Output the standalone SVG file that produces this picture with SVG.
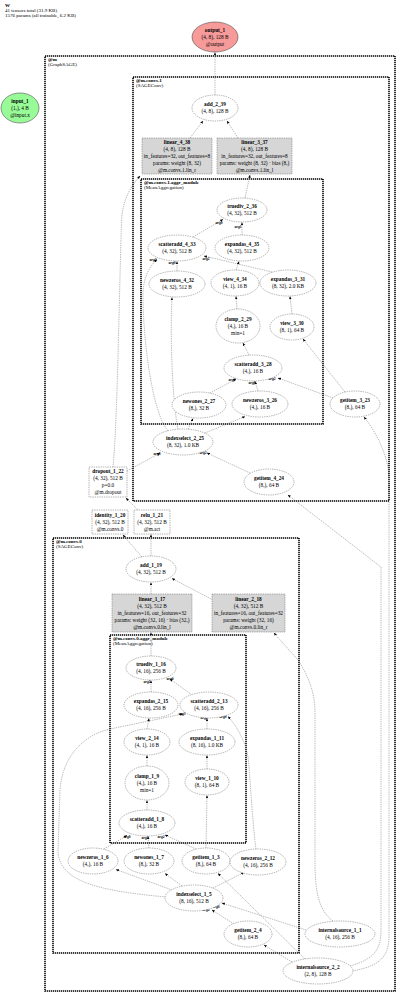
<svg xmlns="http://www.w3.org/2000/svg" width="400" height="996" viewBox="0 0 400 996">
<style>
text{font-family:"Liberation Serif","Times New Roman",serif;font-size:5.3px;fill:#000}
.m{text-anchor:middle}
.b{font-weight:bold}
.h{font-size:5px}
.n{fill:#fff;stroke:#666;stroke-width:0.5;stroke-dasharray:1.4,0.9}
.g{fill:#d6d6d6;stroke:#666;stroke-width:0.5;stroke-dasharray:1.4,0.9}
.c{fill:none;stroke:#000;stroke-width:1.6;stroke-dasharray:1.3,0.7}
.e path{fill:none;stroke:#666;stroke-width:0.45;stroke-dasharray:1.4,0.9;marker-end:url(#a)}
.l{font-size:3.6px;font-weight:bold;text-anchor:middle}
</style>
<defs>
<marker id="a" viewBox="0 0 10 10" refX="9" refY="5" markerWidth="3.2" markerHeight="3.2" orient="auto" markerUnits="userSpaceOnUse">
<path d="M0,1 L10,5 L0,9 z" fill="#000"/>
</marker>
</defs>
<rect width="400" height="996" fill="#fff"/>
<g id="header">
<text x="5" y="6.5" class="b h">W</text>
<text x="5" y="11.7" class="h">41 tensors total (31.9 KB)</text>
<text x="5" y="16.7" class="h">1576 params (all trainable, 6.2 KB)</text>
</g>
<g id="clusters">
<rect class="c" x="45" y="56" width="350" height="935"/>
<text x="48" y="61" class="b h">@m</text>
<text x="48" y="66" class="h">(GraphSAGE)</text>
<rect class="c" x="133" y="77" width="256" height="424"/>
<text x="136" y="82" class="b h">@m.convs.1</text>
<text x="136" y="87" class="h">(SAGEConv)</text>
<rect class="c" x="141" y="179" width="182" height="245"/>
<text x="144" y="184" class="b h">@m.convs.1.aggr_module</text>
<text x="144" y="189" class="h">(MeanAggregation)</text>
<rect class="c" x="53" y="538" width="246" height="415"/>
<text x="56" y="543" class="b h">@m.convs.0</text>
<text x="56" y="548" class="h">(SAGEConv)</text>
<rect class="c" x="110" y="635" width="136" height="208"/>
<text x="113" y="640" class="b h">@m.convs.0.aggr_module</text>
<text x="113" y="645" class="h">(MeanAggregation)</text>
</g>
<g id="edges" class="e">
<path d="M215,95 L215,52.5"/>
<path d="M190,138 L203,121"/>
<path d="M238,138 L227,121"/>
<path d="M245,198 L250,175"/>
<path d="M193,237 L223,219.5"/>
<path d="M242,235 L242,222.5"/>
<path d="M177,271 L177,261.5"/>
<path d="M272,272 L204,256"/>
<path d="M168,431 C152,412 143,340 143,295 C143,277 150,266 157,259.5"/>
<path d="M236,270 L239,261.5"/>
<path d="M237,309 L236,296.5"/>
<path d="M292,314 L290,296.5"/>
<path d="M249,355 L243,343"/>
<path d="M345,392 L303,339"/>
<path d="M333,398 L278,378"/>
<path d="M210,393 L236,379"/>
<path d="M258,391 L255,381.5"/>
<path d="M188,429 L193,418.5"/>
<path d="M205,433 L245,416.5"/>
<path d="M178,429 C172,400 170,330 172,297.5"/>
<path d="M250,473 L207,453"/>
<path d="M127,471 L160,453"/>
<path d="M113,467 C118,420 120,240 122,215 C124,198 131,186 140,176"/>
<path d="M350,966 C374,959 381,950 381,930 L381,567 L288,495"/>
<path d="M352,971 C381,966 389,956 389,935 L389,480 C389,456 376,432 364,417"/>
<path d="M333,921 C319,911 315,892 315,862 L315,712 C315,690 306,672 298,660 L274,633"/>
<path d="M306,930 L222,903"/>
<path d="M234,924 L212,910"/>
<path d="M292,962 L264,945"/>
<path d="M305,959 L218,873.5"/>
<path d="M172,890 L116,869.5"/>
<path d="M182,886 L165,873.5"/>
<path d="M213,888 L244,872.5"/>
<path d="M166,897 C100,891 60,882 58,852 L60,790 C62,760 80,736 110,729 L183,714"/>
<path d="M256,849 C252,820 250,772 248,757 C245,740 236,725 228,716.5"/>
<path d="M207,729 L207,718.5"/>
<path d="M207,769 L207,755.5"/>
<path d="M206,848 L207,795.5"/>
<path d="M192,695 L170,679"/>
<path d="M151,692 L151,680.5"/>
<path d="M147,729 L149,718.5"/>
<path d="M147,766 L147,755.5"/>
<path d="M147,810 L147,800.5"/>
<path d="M104,849 L127,835.5"/>
<path d="M149,848 L148,836.5"/>
<path d="M196,849 L165,835"/>
<path d="M151,656 L151,632.5"/>
<path d="M151,594 L151,582.5"/>
<path d="M213,600 L172,578.5"/>
<path d="M151,556 L151,534.5"/>
<path d="M142,557 L123,535"/>
<path d="M138,510 L126,498"/>
</g>
<g id="edge-labels">
<text x="219" y="224" class="l">arg0</text>
<text x="238" y="227.5" class="l">arg1</text>
<text x="172" y="264" class="l">arg0</text>
<text x="206" y="260" class="l">arg2</text>
<text x="153" y="261" class="l">arg3</text>
<text x="272" y="380" class="l">arg2</text>
<text x="232" y="381" class="l">arg3</text>
<text x="252" y="383.5" class="l">arg0</text>
<text x="203" y="454" class="l">arg2</text>
<text x="157" y="455" class="l">arg0</text>
<text x="170" y="680" class="l">arg0</text>
<text x="147" y="683" class="l">arg1</text>
<text x="182" y="715" class="l">arg3</text>
<text x="204" y="719" class="l">arg2</text>
<text x="223" y="718" class="l">arg0</text>
<text x="127" y="838" class="l">arg0</text>
<text x="145" y="839" class="l">arg3</text>
<text x="161" y="838" class="l">arg2</text>
<text x="206" y="911" class="l">arg2</text>
<text x="216" y="908" class="l">arg0</text>
</g>
<g id="output_1"><ellipse cx="215" cy="37" rx="23" ry="15" fill="#f79a9a" stroke="#333" stroke-width="0.5"/>
<text x="215" y="32.2" class="m b">output_1</text><text x="215" y="39" class="m">(4, 8), 128 B</text><text x="215" y="45.8" class="m">@output</text></g>
<g id="input_1"><ellipse cx="20" cy="108" rx="19" ry="15" fill="#98fb98" stroke="#333" stroke-width="0.5"/>
<text x="20" y="103.2" class="m b">input_1</text><text x="20" y="110" class="m">(1,), 4 B</text><text x="20" y="116.8" class="m">@input.x</text></g>
<g id="add_2_39"><ellipse class="n" cx="215" cy="108" rx="23" ry="13"/>
<text x="215" y="106.2" class="m b">add_2_39</text><text x="215" y="113.4" class="m">(4, 8), 128 B</text></g>
<g id="linear_4_38"><rect class="g" x="142" y="138" width="70" height="36"/>
<text x="177" y="144" class="m b">linear_4_38</text><text x="177" y="151" class="m">(4, 8), 128 B</text><text x="177" y="157.8" class="m">in_features=32, out_features=8</text><text x="177" y="164.8" class="m">params: weight (8, 32)</text><text x="177" y="171.6" class="m">@m.convs.1.lin_r</text></g>
<g id="linear_3_37"><rect class="g" x="217" y="138" width="75" height="36"/>
<text x="254.5" y="144" class="m b">linear_3_37</text><text x="254.5" y="151" class="m">(4, 8), 128 B</text><text x="254.5" y="157.8" class="m">in_features=32, out_features=8</text><text x="254.5" y="164.8" class="m">params: weight (8, 32) · bias (8,)</text><text x="254.5" y="171.6" class="m">@m.convs.1.lin_l</text></g>
<g id="truediv_2_36"><ellipse class="n" cx="242" cy="210" rx="25" ry="12"/>
<text x="242" y="208.2" class="m b">truediv_2_36</text><text x="242" y="215.4" class="m">(4, 32), 512 B</text></g>
<g id="scatteradd_4_33"><ellipse class="n" cx="177" cy="248" rx="29" ry="13"/>
<text x="177" y="246.2" class="m b">scatteradd_4_33</text><text x="177" y="253.4" class="m">(4, 32), 512 B</text></g>
<g id="expandas_4_35"><ellipse class="n" cx="242" cy="248" rx="27" ry="13"/>
<text x="242" y="246.2" class="m b">expandas_4_35</text><text x="242" y="253.4" class="m">(4, 32), 512 B</text></g>
<g id="newzeros_4_32"><ellipse class="n" cx="177" cy="284" rx="28" ry="13"/>
<text x="177" y="282.2" class="m b">newzeros_4_32</text><text x="177" y="289.4" class="m">(4, 32), 512 B</text></g>
<g id="view_4_34"><ellipse class="n" cx="235" cy="283" rx="24" ry="13"/>
<text x="235" y="281.2" class="m b">view_4_34</text><text x="235" y="288.4" class="m">(4, 1), 16 B</text></g>
<g id="expandas_3_31"><ellipse class="n" cx="288" cy="283" rx="28" ry="13"/>
<text x="288" y="281.2" class="m b">expandas_3_31</text><text x="288" y="288.4" class="m">(8, 32), 2.0 KB</text></g>
<g id="clamp_2_29"><ellipse class="n" cx="238" cy="326" rx="22" ry="17"/>
<text x="238" y="321" class="m b">clamp_2_29</text><text x="238" y="328" class="m">(4,), 16 B</text><text x="238" y="335" class="m">min=1</text></g>
<g id="view_3_30"><ellipse class="n" cx="292" cy="327" rx="22" ry="13"/>
<text x="292" y="325.2" class="m b">view_3_30</text><text x="292" y="332.4" class="m">(8, 1), 64 B</text></g>
<g id="scatteradd_3_28"><ellipse class="n" cx="253" cy="368" rx="29" ry="13"/>
<text x="253" y="366.2" class="m b">scatteradd_3_28</text><text x="253" y="373.4" class="m">(4,), 16 B</text></g>
<g id="newones_2_27"><ellipse class="n" cx="199" cy="405" rx="27" ry="13"/>
<text x="199" y="403.2" class="m b">newones_2_27</text><text x="199" y="410.4" class="m">(8,), 32 B</text></g>
<g id="newzeros_3_26"><ellipse class="n" cx="260" cy="404" rx="28" ry="13"/>
<text x="260" y="402.2" class="m b">newzeros_3_26</text><text x="260" y="409.4" class="m">(4,), 16 B</text></g>
<g id="getitem_3_23"><ellipse class="n" cx="355" cy="404" rx="25" ry="13"/>
<text x="355" y="402.2" class="m b">getitem_3_23</text><text x="355" y="409.4" class="m">(8,), 64 B</text></g>
<g id="indexselect_2_25"><ellipse class="n" cx="183" cy="442" rx="30" ry="13"/>
<text x="185" y="440.2" class="m b">indexselect_2_25</text><text x="183" y="447.4" class="m">(8, 32), 1.0 KB</text></g>
<g id="getitem_4_24"><ellipse class="n" cx="269" cy="482" rx="25" ry="13"/>
<text x="269" y="480.2" class="m b">getitem_4_24</text><text x="269" y="487.4" class="m">(8,), 64 B</text></g>
<g id="dropout_1_22"><rect class="n" x="89" y="467" width="38" height="30"/>
<text x="108" y="473" class="m b">dropout_1_22</text><text x="108" y="480" class="m">(4, 32), 512 B</text><text x="108" y="487" class="m">p=0.0</text><text x="108" y="494" class="m">@m.dropout</text></g>
<g id="identity_1_20"><rect class="n" x="92" y="510" width="36" height="24"/>
<text x="110" y="516.8" class="m b">identity_1_20</text><text x="110" y="523.8" class="m">(4, 32), 512 B</text><text x="110" y="530.8" class="m">@m.convs.0</text></g>
<g id="relu_1_21"><rect class="n" x="134" y="510" width="36" height="24"/>
<text x="152" y="516.8" class="m b">relu_1_21</text><text x="152" y="523.8" class="m">(4, 32), 512 B</text><text x="152" y="530.8" class="m">@m.act</text></g>
<g id="add_1_19"><ellipse class="n" cx="151" cy="569" rx="25" ry="13"/>
<text x="151" y="567.2" class="m b">add_1_19</text><text x="151" y="574.4" class="m">(4, 32), 512 B</text></g>
<g id="linear_1_17"><rect class="g" x="112" y="594" width="80" height="38"/>
<text x="152" y="600.8" class="m b">linear_1_17</text><text x="152" y="608" class="m">(4, 32), 512 B</text><text x="152" y="615" class="m">in_features=16, out_features=32</text><text x="152" y="622.2" class="m">params: weight (32, 16) · bias (32,)</text><text x="152" y="629.2" class="m">@m.convs.0.lin_l</text></g>
<g id="linear_2_18"><rect class="g" x="212" y="594" width="73" height="38"/>
<text x="248.5" y="600.8" class="m b">linear_2_18</text><text x="248.5" y="608" class="m">(4, 32), 512 B</text><text x="248.5" y="615" class="m">in_features=16, out_features=32</text><text x="248.5" y="622.2" class="m">params: weight (32, 16)</text><text x="248.5" y="629.2" class="m">@m.convs.0.lin_r</text></g>
<g id="truediv_1_16"><ellipse class="n" cx="151" cy="668" rx="25" ry="12"/>
<text x="151" y="666.2" class="m b">truediv_1_16</text><text x="151" y="673.4" class="m">(4, 16), 256 B</text></g>
<g id="expandas_2_15"><ellipse class="n" cx="151" cy="705" rx="27" ry="13"/>
<text x="151" y="703.2" class="m b">expandas_2_15</text><text x="151" y="710.4" class="m">(4, 16), 256 B</text></g>
<g id="scatteradd_2_13"><ellipse class="n" cx="209" cy="705" rx="29" ry="13"/>
<text x="209" y="703.2" class="m b">scatteradd_2_13</text><text x="209" y="710.4" class="m">(4, 16), 256 B</text></g>
<g id="view_2_14"><ellipse class="n" cx="147" cy="742" rx="23" ry="13"/>
<text x="147" y="740.2" class="m b">view_2_14</text><text x="147" y="747.4" class="m">(4, 1), 16 B</text></g>
<g id="expandas_1_11"><ellipse class="n" cx="207" cy="742" rx="28" ry="13"/>
<text x="207" y="740.2" class="m b">expandas_1_11</text><text x="207" y="747.4" class="m">(8, 16), 1.0 KB</text></g>
<g id="clamp_1_9"><ellipse class="n" cx="147" cy="783" rx="22" ry="17"/>
<text x="147" y="778" class="m b">clamp_1_9</text><text x="147" y="785" class="m">(4,), 16 B</text><text x="147" y="792" class="m">min=1</text></g>
<g id="view_1_10"><ellipse class="n" cx="207" cy="782" rx="22" ry="13"/>
<text x="207" y="780.2" class="m b">view_1_10</text><text x="207" y="787.4" class="m">(8, 1), 64 B</text></g>
<g id="scatteradd_1_8"><ellipse class="n" cx="147" cy="823" rx="28" ry="13"/>
<text x="147" y="821.2" class="m b">scatteradd_1_8</text><text x="147" y="828.4" class="m">(4,), 16 B</text></g>
<g id="newzeros_1_6"><ellipse class="n" cx="93" cy="861" rx="25" ry="13"/>
<text x="93" y="859.2" class="m b">newzeros_1_6</text><text x="93" y="866.4" class="m">(4,), 16 B</text></g>
<g id="newones_1_7"><ellipse class="n" cx="149" cy="861" rx="25" ry="13"/>
<text x="149" y="859.2" class="m b">newones_1_7</text><text x="149" y="866.4" class="m">(8,), 32 B</text></g>
<g id="getitem_1_3"><ellipse class="n" cx="206" cy="861" rx="24" ry="13"/>
<text x="206" y="859.2" class="m b">getitem_1_3</text><text x="206" y="866.4" class="m">(8,), 64 B</text></g>
<g id="newzeros_2_12"><ellipse class="n" cx="258" cy="862" rx="28" ry="13"/>
<text x="258" y="860.2" class="m b">newzeros_2_12</text><text x="258" y="867.4" class="m">(4, 16), 256 B</text></g>
<g id="indexselect_1_5"><ellipse class="n" cx="194" cy="898" rx="29" ry="13"/>
<text x="194" y="896.2" class="m b">indexselect_1_5</text><text x="194" y="903.4" class="m">(8, 16), 512 B</text></g>
<g id="getitem_2_4"><ellipse class="n" cx="248" cy="934" rx="24" ry="13"/>
<text x="248" y="932.2" class="m b">getitem_2_4</text><text x="248" y="939.4" class="m">(8,), 64 B</text></g>
<g id="internalsource_1_1"><ellipse class="n" cx="340" cy="934" rx="35" ry="13"/>
<text x="340" y="932.2" class="m b">internalsource_1_1</text><text x="340" y="939.4" class="m">(4, 16), 256 B</text></g>
<g id="internalsource_2_2"><ellipse class="n" cx="318" cy="971" rx="35" ry="13"/>
<text x="318" y="969.2" class="m b">internalsource_2_2</text><text x="318" y="976.4" class="m">(2, 8), 128 B</text></g>
</svg>
